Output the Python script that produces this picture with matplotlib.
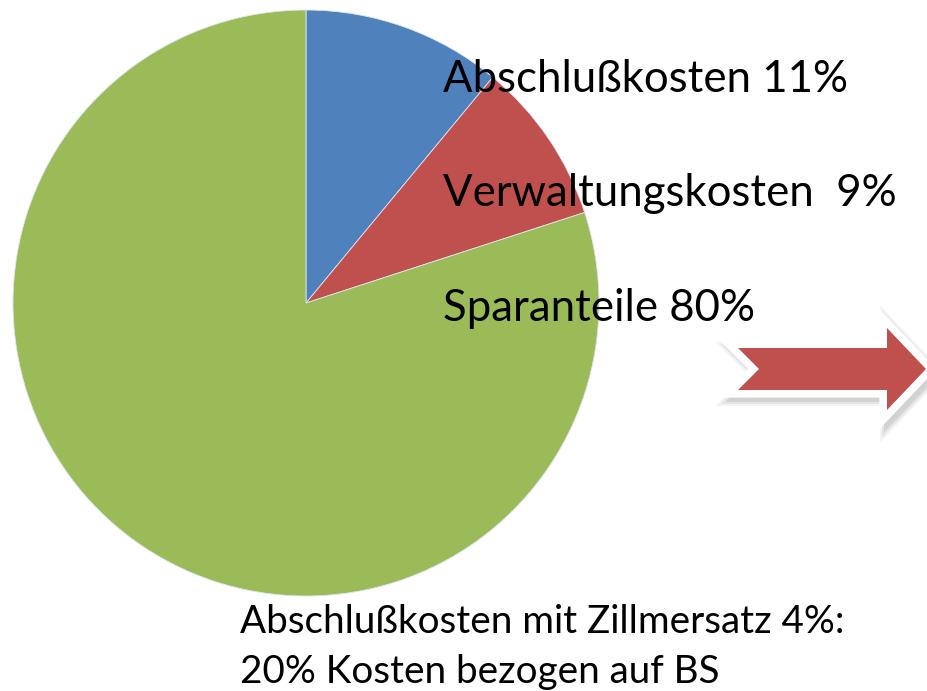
import matplotlib
matplotlib.use("Agg")
from matplotlib import pyplot as plt
from matplotlib.patches import Polygon

# data
labels = ["Abschlußkosten 11%", "Verwaltungskosten  9%", "Sparanteile 80%"]
shares = [11, 9, 80]
colors = ["#4F81BD", "#C0504D", "#9BBB59"]
note_lines = ["Abschlußkosten mit Zillmersatz 4%:", "20% Kosten bezogen auf BS"]

W, H = 928, 691
plt.rcParams['font.family'] = ['Lato', 'DejaVu Sans']

fig = plt.figure(figsize=(W / 100, H / 100), dpi=100)
ax = fig.add_axes([0, 0, 1, 1])


def Y(y):
    # pixel row from the top -> data y
    return H - y


ax.pie(shares, colors=colors, startangle=90, counterclock=False,
       center=(306, Y(303)), radius=293,
       wedgeprops=dict(edgecolor="#dde6f0", linewidth=0.6))

# labels beside the pie
for i, lab in enumerate(labels):
    ax.text(443, Y(92 + i * 114.3), lab, fontsize=31.5, color="black",
            ha="left", va="baseline", zorder=5)

# note underneath
for i, line in enumerate(note_lines):
    ax.text(240, Y(633 + i * 50), line, fontsize=27.8, color="black",
            ha="left", va="baseline", zorder=5)

# block arrow with white rim and soft shadow
arrow = [(738, 348), (887, 348), (887, 328), (926, 369), (887, 410),
         (887, 390), (738, 390), (759, 369)]
pts = [(x, Y(y)) for x, y in arrow]
for k, (lw, a) in enumerate([(16, 0.08), (13, 0.12), (10, 0.18)]):
    sh = [(x + 4, y - 5) for x, y in pts]
    ax.add_patch(Polygon(sh, closed=True, facecolor="#7f7f7f", edgecolor="#7f7f7f",
                         linewidth=lw, alpha=a, joinstyle="miter", zorder=2))
ax.add_patch(Polygon(pts, closed=True, facecolor="white", edgecolor="white",
                     linewidth=11, joinstyle="miter", zorder=3))
ax.add_patch(Polygon(pts, closed=True, facecolor="#C0504D", edgecolor="none", zorder=4))

ax.set_xlim(0, W)
ax.set_ylim(0, H)
ax.set_aspect("equal")
ax.axis("off")

fig.savefig("out.png", dpi=100, facecolor="white")
